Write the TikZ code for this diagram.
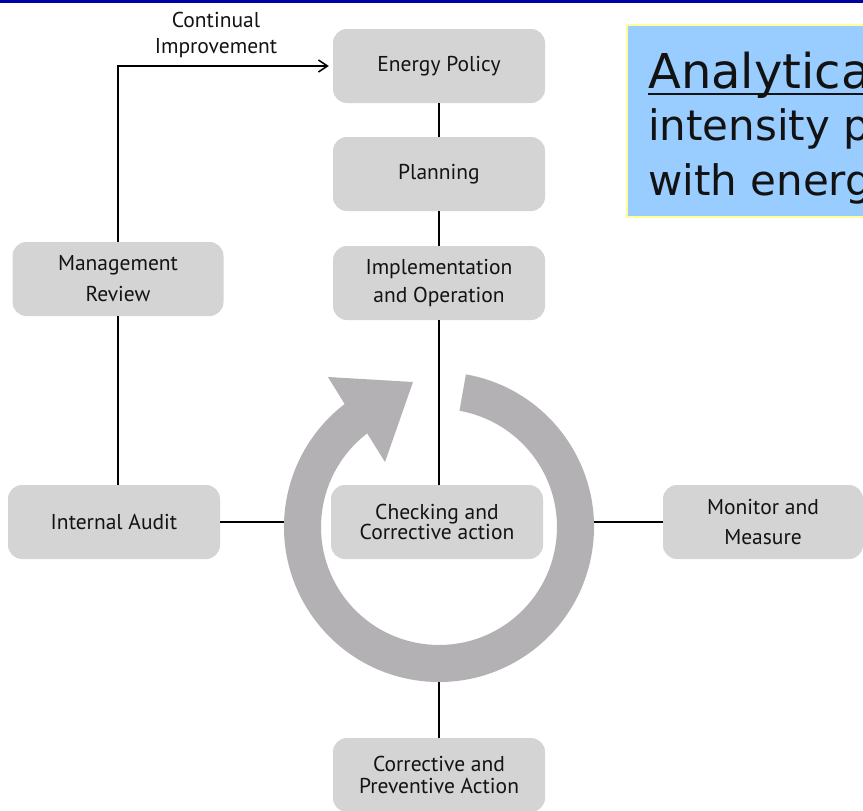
\documentclass[tikz,border=0pt]{standalone}
\usepackage{fontspec}
\setmainfont{PT Sans}
\newfontfamily\verd{DejaVu Sans}
\usetikzlibrary{arrows.meta}
\definecolor{boxgray}{RGB}{212,212,212}
\definecolor{ringgray}{RGB}{179,177,179}
\definecolor{txt}{RGB}{20,18,19}
\definecolor{topblue}{RGB}{0,0,160}
\definecolor{skyblue}{RGB}{153,204,255}
\definecolor{paleyellow}{RGB}{255,255,153}
\begin{document}
\begin{tikzpicture}[x=1pt,y=-1pt,
  pdcabox/.style={fill=boxgray, rounded corners=14pt, minimum width=212pt, minimum height=74pt, align=center, text=txt, font=\fontsize{21.5}{28}\selectfont, inner sep=0pt},
  conn/.style={draw=black, line width=1.5pt}]
\useasboundingbox (0,0) rectangle (863,811);
\clip (0,0) rectangle (863,811);
\fill[white] (0,0) rectangle (863,811);
% top bar
\fill[topblue] (0,0) rectangle (863,3);
% ring arrow
\begin{scope}[shift={(439,527)}, yscale=-1]
\fill[ringgray] (80:155) arc[start angle=80, end angle=-232.5, radius=155]
  -- (-111,150) -- (-26,145) -- (-54,65) -- (-232.5:118)
  arc[start angle=-232.5, end angle=80, radius=118] -- cycle;
\end{scope}
\coordinate (ringL) at (284,522);
\coordinate (ringR) at (594,522);
\coordinate (ringB) at (439,682);
% nodes
\node[pdcabox] (pol) at (439,66) {Energy Policy};
\node[pdcabox] (plan) at (439,174) {Planning};
\node[pdcabox] (impl) at (439,283) {Implementation\\and Operation};
\node[pdcabox, minimum width=211pt, font=\fontsize{21.5}{31}\selectfont] (mgmt) at (118,279) {Management\\Review};
\node[pdcabox] (audit) at (114,522) {Internal Audit};
\node[pdcabox, font=\fontsize{21.5}{20.5}\selectfont] (check) at (437,522) {Checking and\\Corrective action};
\node[pdcabox, minimum width=200pt, font=\fontsize{21.5}{30}\selectfont] (mon) at (763,522) {Monitor and\\Measure};
\node[pdcabox, font=\fontsize{21.5}{22.5}\selectfont] (corr) at (439,775) {Corrective and\\Preventive Action};
\node[align=center, text=txt, font=\fontsize{21.5}{25.5}\selectfont] (ci) at (216,35) {Continual\\Improvement};
% connectors
\draw[conn] (pol) -- (plan);
\draw[conn] (plan) -- (impl);
\draw[conn] (impl.south) -- (impl.south |- check.north);
\draw[conn] (mgmt.south) -- (mgmt.south |- audit.north);
\draw[conn, -{Straight Barb[length=9pt,width=12pt,line width=1.5pt]}] (mgmt.north) |- ([xshift=-4pt]pol.west);
\draw[conn] (audit.east) -- (ringL);
\draw[conn] (ringR) -- (mon.west);
\draw[conn] (ringB) -- (corr.north);
% blue note
\draw[fill=skyblue, draw=paleyellow, line width=2pt] (627,25) rectangle (880,217);
\node[anchor=base west, inner sep=0pt, font=\verd\fontsize{48}{55}\selectfont, text=black!93] (t1) at (648,88) {Analytica};
\draw[black!93, line width=2pt] (648,94) -- (880,94);
\node[anchor=base west, inner sep=0pt, font=\verd\fontsize{42}{55}\selectfont, text=black!93] (t2) at (648,140) {intensity p};
\node[anchor=base west, inner sep=0pt, font=\verd\fontsize{42}{55}\selectfont, text=black!93] (t3) at (648,195) {with energ};
\end{tikzpicture}
\end{document}
